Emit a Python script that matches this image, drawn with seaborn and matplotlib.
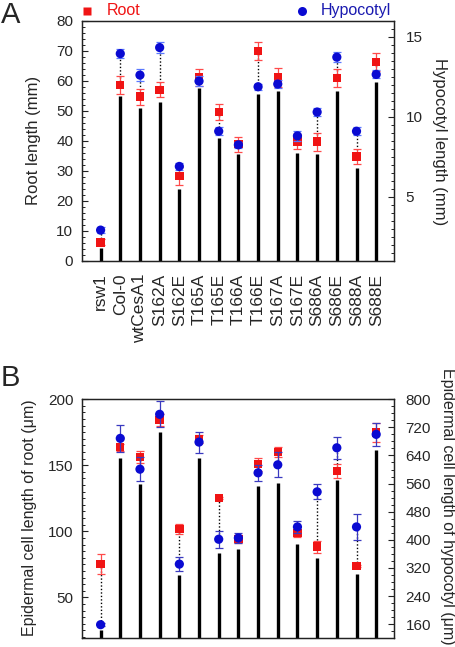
import numpy as np
import pandas as pd
import matplotlib
matplotlib.use("Agg")
import matplotlib.pyplot as plt
from matplotlib.ticker import MultipleLocator, FixedLocator
import seaborn as sns

# ---------------- data ----------------
genotypes = ["rsw1", "Col-0", "wtCesA1", "S162A", "S162E", "T165A", "T165E",
             "T166A", "T166E", "S167A", "S167E", "S686A", "S686E", "S688A", "S688E"]

# Panel A
root_len = [6.2, 58.7, 54.8, 57.1, 28.3, 61.2, 49.7, 38.9, 70.1, 61.2, 39.8, 39.8, 61.0, 34.8, 66.4]
root_err = [1.0, 2.9, 2.7, 2.5, 3.0, 2.7, 2.6, 2.5, 3.0, 3.3, 2.5, 3.0, 3.1, 2.6, 3.0]
hyp_len = [2.93, 13.96, 12.62, 14.34, 6.91, 12.24, 9.11, 8.26, 11.89, 12.06, 8.82, 10.31, 13.74, 9.11, 12.66]
hyp_err = [0.2, 0.3, 0.37, 0.35, 0.2, 0.3, 0.25, 0.2, 0.2, 0.25, 0.3, 0.25, 0.3, 0.25, 0.25]
stem_a = [4.2, 55.0, 50.9, 52.9, 23.9, 57.6, 41.1, 35.7, 55.7, 56.7, 36.1, 35.8, 56.7, 31.1, 59.8]

# Panel B
root_cell = [75.1, 163.6, 156.0, 184.5, 101.6, 169.9, 125.3, 94.0, 150.8, 160.1, 98.6, 88.4, 145.7, 73.8, 174.7]
root_cell_err = [7.6, 2.5, 4.5, 4.5, 4.0, 3.0, 1.0, 3.0, 5.0, 3.5, 3.0, 4.5, 5.0, 1.0, 7.0]
hyp_cell = [158.7, 688.6, 601.0, 757.0, 331.0, 678.0, 401.7, 405.4, 590.6, 613.4, 436.8, 536.5, 661.8, 436.8, 700.0]
hyp_cell_err = [5, 38, 35, 37, 20, 30, 24, 15, 23, 36, 17, 21, 32, 37, 32]
stem_b = [25.4, 155.8, 135.6, 175.0, 67.0, 155.3, 83.4, 86.5, 134.6, 136.4, 90.2, 79.6, 138.6, 67.8, 161.6]

# ---------------- style ----------------
sns.set_style("ticks")
plt.rcParams["font.family"] = ["Liberation Sans", "DejaVu Sans"]
plt.rcParams["axes.linewidth"] = 0.9
plt.rcParams["axes.edgecolor"] = "#222222"

RED = "#f01414"
RED_ERR = "#ff4a4a"
BLUE = "#0a0ad2"
BLUE_ERR_A = "#5a78ff"
BLUE_ERR_B = "#3a3ac0"

W, H = 456, 647
fig = plt.figure(figsize=(W / 100, H / 100), dpi=100)


def fx(px):
    return px / W


def fy(py):
    return 1 - py / H


x = np.arange(len(genotypes))


def panel(rect, left_vals, left_err, right_vals, right_err, stems,
          lylim, rylim, lmaj, lmin, rmaj, rmin, blue_err_col, show_xlabels):
    ax = fig.add_axes(rect)
    ax2 = ax.twinx()
    ax.set_xlim(-0.96, 14.92)
    ax.set_ylim(*lylim)
    ax2.set_ylim(*rylim)

    df = pd.DataFrame({"pos": x, "left": left_vals, "right": right_vals})

    # stems
    ax.vlines(x, lylim[0], stems, color="black", lw=2.4, zorder=1)
    # dotted connectors (right values converted to left scale)
    rv = np.asarray(right_vals, dtype=float)
    conv = lylim[0] + (rv - rylim[0]) * (lylim[1] - lylim[0]) / (rylim[1] - rylim[0])
    ax.vlines(x, left_vals, conv, color="black", lw=1.0, linestyles=(0, (1, 1.5)), zorder=1)

    ax.errorbar(x, left_vals, yerr=left_err, fmt="none", ecolor=RED_ERR,
                elinewidth=0.9, capsize=2.6, capthick=0.9, zorder=2)
    sns.scatterplot(data=df, x="pos", y="left", marker="s", color=RED, s=36,
                    edgecolor="none", ax=ax, zorder=3)
    ax2.errorbar(x, right_vals, yerr=right_err, fmt="none", ecolor=blue_err_col,
                 elinewidth=0.9, capsize=2.6, capthick=0.9, zorder=2)
    sns.scatterplot(data=df, x="pos", y="right", marker="o", color=BLUE, s=44,
                    edgecolor="none", ax=ax2, zorder=3)

    ax.yaxis.set_major_locator(FixedLocator(lmaj))
    ax.yaxis.set_minor_locator(MultipleLocator(lmin))
    ax2.yaxis.set_major_locator(FixedLocator(rmaj))
    ax2.yaxis.set_minor_locator(MultipleLocator(rmin))
    for a in (ax, ax2):
        a.tick_params(axis="y", which="major", direction="in", length=4, width=0.8,
                      labelsize=11, color="#222222")
        a.tick_params(axis="y", which="minor", direction="in", length=2.2, width=0.7,
                      color="#222222")
        a.set_xlabel("")
        a.set_ylabel("")
    ax.tick_params(axis="y", pad=6)
    ax2.tick_params(axis="y", pad=8)
    ax.set_xticks(x)
    if show_xlabels:
        ax.set_xticklabels(genotypes, rotation=90, fontsize=12.5)
    else:
        ax.set_xticklabels([])
    ax.tick_params(axis="x", length=0, pad=9)
    ax2.set_xlim(ax.get_xlim())
    return ax, ax2


# Panel A
rectA = [fx(81.7), fy(261), fx(394.3) - fx(81.7), fy(21) - fy(261)]
panel(rectA, root_len, root_err, hyp_len, hyp_err, stem_a,
      (0, 80), (1, 16), list(range(0, 81, 10)), 2, [5, 10, 15], 0.5,
      BLUE_ERR_A, True)

# Panel B
rectB = [fx(81.7), fy(638.3), fx(394.3) - fx(81.7), fy(399.2) - fy(638.3)]
panel(rectB, root_cell, root_cell_err, hyp_cell, hyp_cell_err, stem_b,
      (19, 200), (120, 800), [50, 100, 150, 200], 5, list(range(160, 801, 80)), 20,
      BLUE_ERR_B, False)

# Axis titles
fig.text(fx(33.5), fy(140), "Root length (mm)", rotation=90, ha="center", va="center", fontsize=12)
fig.text(fx(440), fy(142), "Hypocotyl length (mm)", rotation=270, ha="center", va="center", fontsize=12)
fig.text(fx(30), fy(518), "Epidermal cell length of root (\u03bcm)", rotation=90,
         ha="center", va="center", fontsize=11.5)
fig.text(fx(448), fy(506), "Epidermal cell length of hypocotyl (\u03bcm)", rotation=270,
         ha="center", va="center", fontsize=11.5)

# Panel letters
fig.text(fx(1), fy(15), "A", fontsize=21, ha="left", va="center")
fig.text(fx(1), fy(377.5), "B", fontsize=21, ha="left", va="center")

# Legend
legax = fig.add_axes([0, 0, 1, 1], facecolor="none")
legax.set_xlim(0, W)
legax.set_ylim(H, 0)
legax.axis("off")
legax.plot([87.5], [10.5], marker="s", color=RED, ms=6, mec="none", ls="none")
legax.text(107, 10.5, "Root", color=RED, fontsize=11.5, ha="left", va="center")
legax.plot([302], [10.5], marker="o", color=BLUE, ms=6.5, mec="none", ls="none")
legax.text(321, 10.5, "Hypocotyl", color="#1a1ab0", fontsize=11.5, ha="left", va="center")

fig.savefig("out.png", dpi=100)
